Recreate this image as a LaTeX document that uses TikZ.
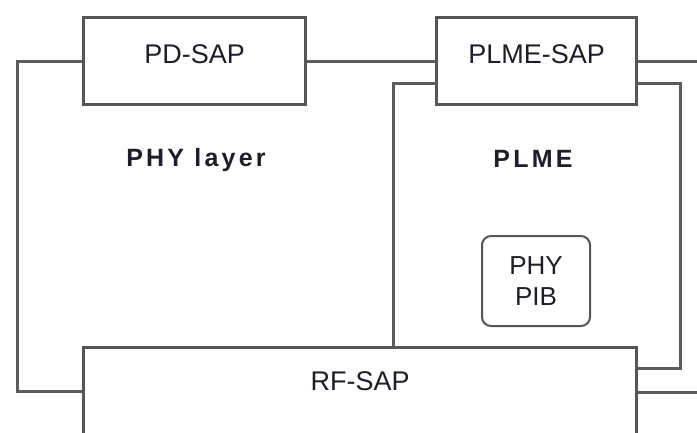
\documentclass[tikz,border=0pt]{standalone}
\usepackage{fontspec}
\setmainfont{Liberation Sans}
\newfontfamily\boldsp[LetterSpace=13]{Liberation Sans Bold}
\definecolor{lncol}{HTML}{5C5C5C}
\definecolor{bxcol}{HTML}{555555}
\definecolor{txcol}{HTML}{1E1E28}
\begin{document}
\begin{tikzpicture}[x=1pt,y=-1pt,
  sapbox/.style={draw=bxcol, line width=2.2pt, fill=white, inner xsep=0pt, inner ysep=0pt,
     text=txcol, font=\fontsize{27}{30}\selectfont},
  pibbox/.style={draw=bxcol, line width=2pt, rounded corners=9pt, fill=white, inner sep=0pt,
     minimum width=108pt, minimum height=90pt, align=center, text=txcol, font=\fontsize{26}{31}\selectfont},
  conn/.style={draw=lncol, line width=3pt},
  lbl/.style={anchor=base, text=txcol, inner sep=0pt, font=\fontsize{25}{30}\boldsp}]
\useasboundingbox (0,0) rectangle (697,432);
% boxes
\node[sapbox, anchor=north west, minimum width=221pt, text height=45pt, text depth=41pt] (pd) at (83,17) {PD-SAP};
\node[sapbox, anchor=north west, minimum width=199pt, text height=45pt, text depth=41pt] (plmesap) at (436,17) {PLME-SAP};
\node[sapbox, anchor=north west, minimum width=552pt, text height=42pt, text depth=78pt] (rf) at (83,347) {RF-SAP};
\node[pibbox] (pib) at (536,281) {PHY\\PIB};
% labels
\node[lbl] (phy) at (196,166) {PHY layer};
\node[lbl] (plme) at (533,167) {PLME};
% free ends
\coordinate (e1) at (697,61);
\coordinate (e2) at (697,392);
\coordinate (plx) at (393,82);
% connectors
\draw[conn] (pd.west) -- ++(-66,0) |- ([yshift=-44pt]rf.north west);
\draw[conn] (pd.east) -- (plmesap.west);
\draw[conn] (plmesap.east) -- (plmesap.east -| e1);
\draw[conn] ([yshift=-22pt]plmesap.west) -| (rf.north -| plx);
\draw[conn] ([yshift=-22pt]plmesap.east) -- ++(43,0) |- ([yshift=-21pt]rf.north east);
\draw[conn] ([yshift=-45pt]rf.north east) -- (e2);
% redraw boxes' borders over connector ends
\draw[draw=bxcol, line width=2.2pt] (pd.north west) rectangle (pd.south east);
\draw[draw=bxcol, line width=2.2pt] (plmesap.north west) rectangle (plmesap.south east);
\draw[draw=bxcol, line width=2.2pt] (rf.north west) rectangle (rf.south east);
\end{tikzpicture}
\end{document}
